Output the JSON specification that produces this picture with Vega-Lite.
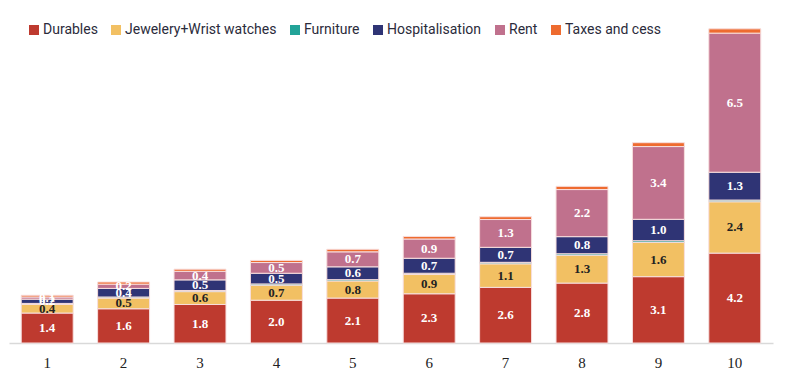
{
  "$schema": "https://vega.github.io/schema/vega-lite/v6.json",
  "width": 764,
  "height": 321,
  "padding": {"left": 9, "top": 22, "right": 23, "bottom": 38},
  "autosize": {"type": "none"},
  "background": "white",
  "config": {"view": {"stroke": null}},
  "data": {"values": [
    {"d": 1, "cat": "Durables", "v": 1.4}, {"d": 1, "cat": "Jewelery+Wrist watches", "v": 0.4}, {"d": 1, "cat": "Furniture", "v": 0.05}, {"d": 1, "cat": "Hospitalisation", "v": 0.2}, {"d": 1, "cat": "Rent", "v": 0.1}, {"d": 1, "cat": "Taxes and cess", "v": 0.08},
    {"d": 2, "cat": "Durables", "v": 1.6}, {"d": 2, "cat": "Jewelery+Wrist watches", "v": 0.5}, {"d": 2, "cat": "Furniture", "v": 0.05}, {"d": 2, "cat": "Hospitalisation", "v": 0.4}, {"d": 2, "cat": "Rent", "v": 0.2}, {"d": 2, "cat": "Taxes and cess", "v": 0.1},
    {"d": 3, "cat": "Durables", "v": 1.8}, {"d": 3, "cat": "Jewelery+Wrist watches", "v": 0.6}, {"d": 3, "cat": "Furniture", "v": 0.05}, {"d": 3, "cat": "Hospitalisation", "v": 0.5}, {"d": 3, "cat": "Rent", "v": 0.4}, {"d": 3, "cat": "Taxes and cess", "v": 0.1},
    {"d": 4, "cat": "Durables", "v": 2.0}, {"d": 4, "cat": "Jewelery+Wrist watches", "v": 0.7}, {"d": 4, "cat": "Furniture", "v": 0.06}, {"d": 4, "cat": "Hospitalisation", "v": 0.5}, {"d": 4, "cat": "Rent", "v": 0.5}, {"d": 4, "cat": "Taxes and cess", "v": 0.1},
    {"d": 5, "cat": "Durables", "v": 2.1}, {"d": 5, "cat": "Jewelery+Wrist watches", "v": 0.8}, {"d": 5, "cat": "Furniture", "v": 0.06}, {"d": 5, "cat": "Hospitalisation", "v": 0.6}, {"d": 5, "cat": "Rent", "v": 0.7}, {"d": 5, "cat": "Taxes and cess", "v": 0.12},
    {"d": 6, "cat": "Durables", "v": 2.3}, {"d": 6, "cat": "Jewelery+Wrist watches", "v": 0.9}, {"d": 6, "cat": "Furniture", "v": 0.06}, {"d": 6, "cat": "Hospitalisation", "v": 0.7}, {"d": 6, "cat": "Rent", "v": 0.9}, {"d": 6, "cat": "Taxes and cess", "v": 0.12},
    {"d": 7, "cat": "Durables", "v": 2.6}, {"d": 7, "cat": "Jewelery+Wrist watches", "v": 1.1}, {"d": 7, "cat": "Furniture", "v": 0.07}, {"d": 7, "cat": "Hospitalisation", "v": 0.7}, {"d": 7, "cat": "Rent", "v": 1.3}, {"d": 7, "cat": "Taxes and cess", "v": 0.13},
    {"d": 8, "cat": "Durables", "v": 2.8}, {"d": 8, "cat": "Jewelery+Wrist watches", "v": 1.3}, {"d": 8, "cat": "Furniture", "v": 0.07}, {"d": 8, "cat": "Hospitalisation", "v": 0.8}, {"d": 8, "cat": "Rent", "v": 2.2}, {"d": 8, "cat": "Taxes and cess", "v": 0.15},
    {"d": 9, "cat": "Durables", "v": 3.1}, {"d": 9, "cat": "Jewelery+Wrist watches", "v": 1.6}, {"d": 9, "cat": "Furniture", "v": 0.08}, {"d": 9, "cat": "Hospitalisation", "v": 1.0}, {"d": 9, "cat": "Rent", "v": 3.4}, {"d": 9, "cat": "Taxes and cess", "v": 0.18},
    {"d": 10, "cat": "Durables", "v": 4.2}, {"d": 10, "cat": "Jewelery+Wrist watches", "v": 2.4}, {"d": 10, "cat": "Furniture", "v": 0.08}, {"d": 10, "cat": "Hospitalisation", "v": 1.3}, {"d": 10, "cat": "Rent", "v": 6.5}, {"d": 10, "cat": "Taxes and cess", "v": 0.2}
  ]},
  "transform": [
    {"calculate": "indexof(['Durables','Jewelery+Wrist watches','Furniture','Hospitalisation','Rent','Taxes and cess'], datum.cat)", "as": "ord"},
    {"stack": "v", "groupby": ["d"], "sort": [{"field": "ord", "order": "ascending"}], "as": ["y0", "y1"]},
    {"calculate": "(datum.y0 + datum.y1) / 2", "as": "ym"}
  ],
  "encoding": {
    "x": {
      "field": "d", "type": "ordinal",
      "scale": {"paddingInner": 0.32, "paddingOuter": 0.16},
      "axis": {"title": null, "labelAngle": 0, "ticks": false, "domainColor": "#d9d9d9", "domainWidth": 1.5, "labelFont": "Liberation Serif", "labelFontSize": 15, "labelColor": "#222222", "labelPadding": 12}
    }
  },
  "layer": [
    {
      "mark": {"type": "bar", "stroke": "#f7dede", "strokeWidth": 1},
      "encoding": {
        "y": {"field": "y0", "type": "quantitative", "scale": {"domain": [0, 15], "nice": false, "zero": true}, "axis": null},
        "y2": {"field": "y1"},
        "color": {
          "field": "cat", "type": "nominal",
          "scale": {
            "domain": ["Durables", "Jewelery+Wrist watches", "Furniture", "Hospitalisation", "Rent", "Taxes and cess"],
            "range": ["#BE3A2F", "#F2C063", "#22A398", "#2F3475", "#C0718D", "#EE6B2F"]
          },
          "legend": {"orient": "none", "legendX": 18, "legendY": 1, "direction": "horizontal", "columns": 6, "title": null, "symbolType": "square", "symbolSize": 100, "symbolStrokeWidth": 0, "labelFont": "Roboto", "labelFontSize": 14, "labelColor": "#2b2b3b", "columnPadding": 11, "labelOffset": 2}
        }
      }
    },
    {
      "transform": [{"filter": "datum.cat != 'Furniture' && datum.cat != 'Taxes and cess'"}],
      "mark": {"type": "text", "font": "Liberation Serif", "fontSize": 13, "fontWeight": "bold"},
      "encoding": {
        "y": {"field": "ym", "type": "quantitative"},
        "text": {"field": "v", "type": "quantitative", "format": ".1f"},
        "color": {"condition": {"test": "datum.cat === 'Jewelery+Wrist watches'", "value": "#222222"}, "value": "white"}
      }
    }
  ]
}
